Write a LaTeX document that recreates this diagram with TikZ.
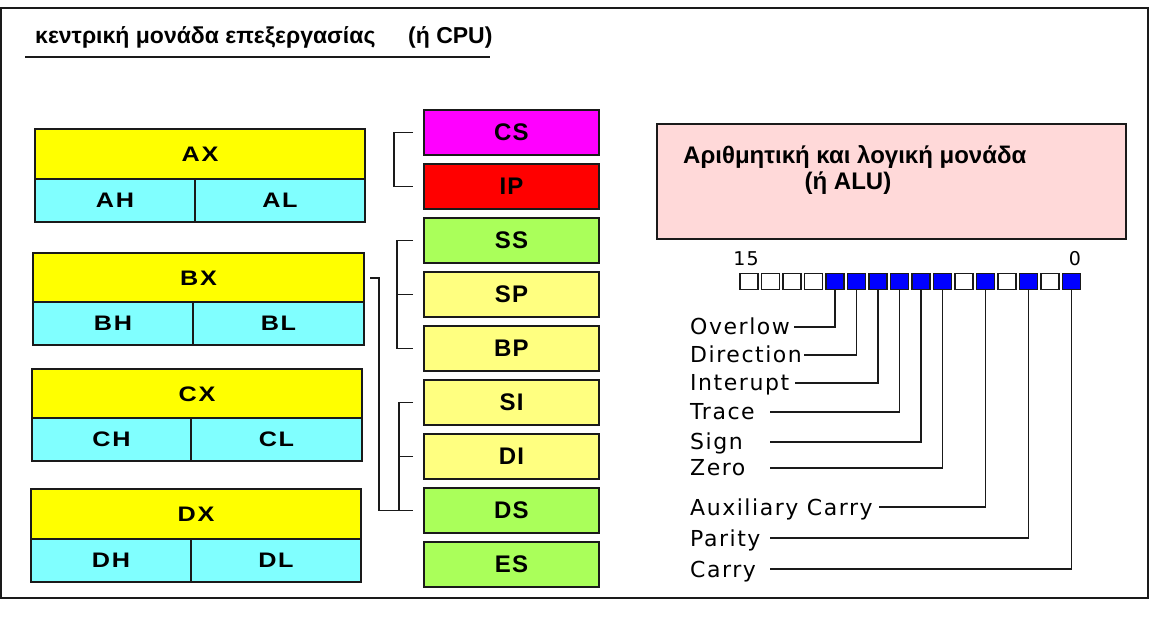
\documentclass[tikz,border=0pt]{standalone}
\usepackage{fontspec}
\setmainfont{Liberation Sans}
\newfontfamily\regfont[FakeStretch=1.2,LetterSpace=8]{Liberation Sans}
\newfontfamily\segfont[LetterSpace=5]{Liberation Sans}
\newfontfamily\flagfont[LetterSpace=7]{DejaVu Sans}
\definecolor{bordc}{HTML}{1A1A1A}
\definecolor{regyel}{HTML}{FFFF00}
\definecolor{regcyan}{HTML}{80FFFF}
\definecolor{segmag}{HTML}{FF00FF}
\definecolor{segred}{HTML}{FF0000}
\definecolor{seggreen}{HTML}{AAFF5A}
\definecolor{seglyel}{HTML}{FFFF80}
\definecolor{alupink}{HTML}{FFD9D9}
\definecolor{flagblue}{HTML}{0000FF}
\begin{document}
\begin{tikzpicture}[x=1pt,y=-1pt,
  regbox/.style={draw=bordc, line width=2pt, inner sep=0pt, anchor=north west,
    font=\regfont\bfseries\fontsize{21}{21}\selectfont},
  hi/.style={regbox, fill=regyel, minimum height=50pt},
  lo/.style={regbox, fill=regcyan, minimum height=43pt},
  seg/.style={draw=bordc, line width=2pt, inner sep=0pt, anchor=north west,
    minimum width=175pt, minimum height=45pt,
    font=\segfont\bfseries\fontsize{24}{24}\selectfont},
  conn/.style={draw=bordc, line width=1.8pt},
  flagbox/.style={draw=bordc, line width=1.5pt, inner sep=0pt, minimum width=18pt, minimum height=16pt},
  flab/.style={anchor=west, inner sep=0pt, text height=16pt, text depth=0pt,
    font=\flagfont\fontsize{22}{22}\selectfont},
  flabs/.style={flab, text width=78pt, align=left},
  ttl/.style={anchor=base west, inner sep=0pt, font=\bfseries\fontsize{23}{23}\selectfont}
]
\useasboundingbox (0,0) rectangle (1152,617);
\draw[line width=2pt, draw=bordc] (1,8) rectangle (1148,598);

% title
\node[ttl] (title) at (35,44) {κεντρική μονάδα επεξεργασίας};
\node[ttl] (cpu) at (408,44) {(ή CPU)};
\draw[line width=2.5pt, draw=bordc] (25,57) -- (490,57);

% general registers
\node[hi, minimum width=330pt] (AX) at (34,128) {AX};
\node[lo, minimum width=160pt] (AH) at (34,178) {AH};
\node[lo, minimum width=170pt] (AL) at (194,178) {AL};

\node[hi, minimum width=331pt] (BX) at (32,252) {BX};
\node[lo, minimum width=160pt] (BH) at (32,301) {BH};
\node[lo, minimum width=171pt] (BL) at (192,301) {BL};

\node[hi, minimum width=330pt] (CX) at (31,368) {CX};
\node[lo, minimum width=159pt] (CH) at (31,417) {CH};
\node[lo, minimum width=171pt] (CL) at (190,417) {CL};

\node[hi, minimum width=330pt] (DX) at (30,488) {DX};
\node[lo, minimum width=160pt] (DH) at (30,538) {DH};
\node[lo, minimum width=170pt] (DL) at (190,538) {DL};

% segment / pointer registers
\node[seg, fill=segmag] (CS) at (423,109) {CS};
\node[seg, fill=segred] (IP) at (423,163) {IP};
\node[seg, fill=seggreen] (SS) at (423,217) {SS};
\node[seg, fill=seglyel] (SP) at (423,271) {SP};
\node[seg, fill=seglyel] (BP) at (423,325) {BP};
\node[seg, fill=seglyel] (SI) at (423,379) {SI};
\node[seg, fill=seglyel] (DI) at (423,433) {DI};
\node[seg, fill=seggreen] (DS) at (423,487) {DS};
\node[seg, fill=seggreen] (ES) at (423,541) {ES};

% brackets
\draw[conn] ([xshift=-10pt]CS.west) -- ++(-19pt,0) |- ([xshift=-10pt]IP.west);
\draw[conn] ([xshift=-10pt]SS.west) -- ++(-16pt,0) |- ([xshift=-10pt]BP.west);
\draw[conn] ([xshift=-10pt]SP.west) -- ++(-16pt,0);
\draw[conn] ([xshift=-10pt]SI.west) -- ++(-14pt,0) |- ([xshift=-10pt]DS.west);
\draw[conn] ([xshift=-10pt]DI.west) -- ++(-14pt,0);
\draw[conn] ([xshift=5pt]BX.east) -- ++(9pt,0) |- ([xshift=-10pt]DS.west);

% ALU
\node[draw=bordc, line width=2pt, fill=alupink, inner sep=0pt, anchor=north west,
  minimum width=469pt, minimum height=115pt] (alu) at (656,123) {};
\node[ttl, font=\bfseries\fontsize{24}{24}\selectfont] (alut1) at (683,164) {Αριθμητική και λογική μονάδα};
\node[ttl, font=\bfseries\fontsize{24}{24}\selectfont, anchor=base] (alut2) at (848,190) {(ή ALU)};

% flags
\node[anchor=base, inner sep=0pt, font=\flagfont\fontsize{19}{19}\selectfont] (n15) at (746,266) {15};
\node[anchor=base, inner sep=0pt, font=\flagfont\fontsize{19}{19}\selectfont] (n0) at (1075,266) {0};
\foreach \b/\c in {15/white,14/white,13/white,12/white,11/flagblue,10/flagblue,9/flagblue,8/flagblue,7/flagblue,6/flagblue,5/white,4/flagblue,3/white,2/flagblue,1/white,0/flagblue}
  \node[flagbox, fill=\c] (f\b) at ({749+(15-\b)*21.5},281.5) {};

\node[flab] (ov) at (690,327) {Overlow};
\node[flab] (dir) at (690,355) {Direction};
\node[flab] (intr) at (690,383) {Interupt};
\node[flabs] (trc) at (690,412) {Trace};
\node[flabs] (sgn) at (690,442) {Sign};
\node[flabs] (zro) at (690,468) {Zero};
\node[flab] (aux) at (690,507) {Auxiliary Carry};
\node[flabs] (par) at (690,538) {Parity};
\node[flabs] (car) at (690,569) {Carry};

\draw[conn] (f11.south) |- ([xshift=4pt]ov.east);
\draw[conn] (f10.south) |- ([xshift=2pt]dir.east);
\draw[conn] (f9.south) |- ([xshift=6pt]intr.east);
\draw[conn] (f8.south) |- ([xshift=2pt]trc.east);
\draw[conn] (f7.south) |- ([xshift=2pt]sgn.east);
\draw[conn] (f6.south) |- ([xshift=2pt]zro.east);
\draw[conn] (f4.south) |- ([xshift=6pt]aux.east);
\draw[conn] (f2.south) |- ([xshift=2pt]par.east);
\draw[conn] (f0.south) |- ([xshift=2pt]car.east);
\end{tikzpicture}
\end{document}
